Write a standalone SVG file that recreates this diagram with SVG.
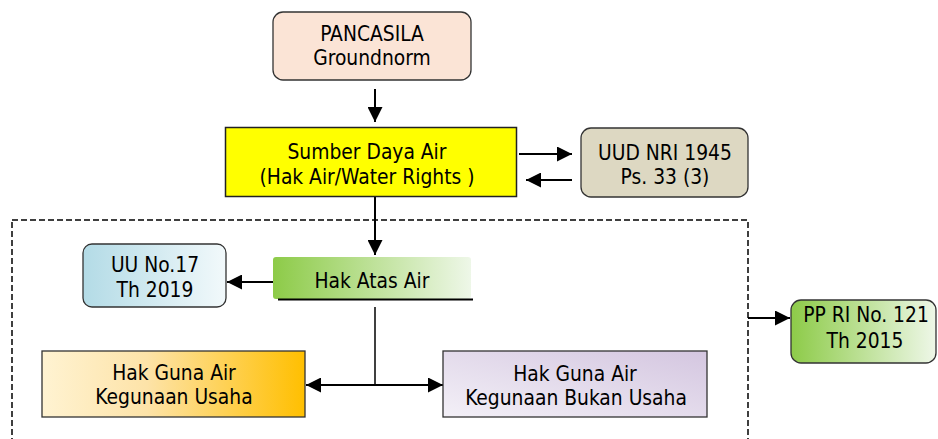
<svg xmlns="http://www.w3.org/2000/svg" width="938" height="439" viewBox="0 0 938 439">
<defs>
<style>
text{font-family:"DejaVu Sans Condensed","DejaVu Sans",sans-serif;font-stretch:condensed;font-size:20.8px;fill:#000;text-anchor:middle}
.c{stroke:#000;stroke-width:2;fill:none}
.b{stroke:#333;stroke-width:1.3}
</style>
<marker id="ah" viewBox="0 0 12 12" refX="12" refY="6" markerWidth="15" markerHeight="15" markerUnits="userSpaceOnUse" orient="auto-start-reverse">
<path d="M0,0 L12,6 L0,12 Z" fill="#000"/>
</marker>
<linearGradient id="gUU" x1="0" y1="0" x2="1" y2="0"><stop offset="0" stop-color="#b3dbe6"/><stop offset="1" stop-color="#f2f9fb"/></linearGradient>
<linearGradient id="gGreen" x1="0" y1="0" x2="1" y2="0"><stop offset="0" stop-color="#8dcb48"/><stop offset="1" stop-color="#eef7e8"/></linearGradient>
<linearGradient id="gOr" x1="0" y1="0" x2="1" y2="0"><stop offset="0" stop-color="#fff3d2"/><stop offset="0.4" stop-color="#fde3a8"/><stop offset="1" stop-color="#ffbf00"/></linearGradient>
<linearGradient id="gLav" x1="0" y1="1" x2="1" y2="0"><stop offset="0" stop-color="#f3f0f7"/><stop offset="1" stop-color="#d4c6e0"/></linearGradient>
</defs>
<rect width="938" height="439" fill="#fff"/>

<g id="connectors">
<rect x="12" y="220" width="736" height="240" fill="none" stroke="#000" stroke-width="1.5" stroke-dasharray="6,3"/>
<line class="c" x1="375" y1="89" x2="375" y2="122" marker-end="url(#ah)"/>
<line class="c" x1="519" y1="154" x2="572" y2="154" marker-end="url(#ah)"/>
<line class="c" x1="572" y1="180" x2="526" y2="180" marker-end="url(#ah)"/>
<line class="c" x1="375" y1="197" x2="375" y2="255" marker-end="url(#ah)"/>
<line class="c" x1="273" y1="282" x2="227" y2="282" marker-end="url(#ah)"/>
<line x1="375" y1="307" x2="375" y2="385" stroke="#000" stroke-width="1.5"/>
<line class="c" x1="306" y1="385" x2="443" y2="385" marker-start="url(#ah)" marker-end="url(#ah)"/>
<line class="c" x1="748" y1="318" x2="790" y2="318" marker-end="url(#ah)"/>
</g>

<g id="pancasila">
<rect class="b" x="273" y="12" width="198" height="68" rx="10" fill="#fbe4d6"/>
<text x="372" y="41">PANCASILA</text>
<text x="372" y="65">Groundnorm</text>
</g>

<g id="sumber">
<rect x="225.5" y="127.5" width="291" height="69" fill="#ffff00" stroke="#222" stroke-width="1.5"/>
<text x="367" y="159">Sumber Daya Air</text>
<text x="367" y="184">(Hak Air/Water Rights )</text>
</g>

<g id="uud">
<rect class="b" x="581" y="128" width="167" height="69" rx="10" fill="#ddd8c2"/>
<text x="665" y="160">UUD NRI 1945</text>
<text x="665" y="184">Ps. 33 (3)</text>
</g>

<g id="uu17">
<rect class="b" x="83" y="244" width="143" height="63" rx="9" fill="url(#gUU)"/>
<text x="155" y="272">UU No.17</text>
<text x="155" y="297">Th 2019</text>
</g>

<g id="hakatas">
<rect x="273" y="257" width="198" height="42" rx="3" fill="url(#gGreen)"/>
<line x1="278" y1="299.5" x2="473" y2="299.5" stroke="#000" stroke-width="2"/>
<text x="372" y="288">Hak Atas Air</text>
</g>

<g id="gunausaha">
<rect class="b" x="42" y="351" width="263" height="66" fill="url(#gOr)"/>
<text x="174" y="380">Hak Guna Air</text>
<text x="174" y="404">Kegunaan Usaha</text>
</g>

<g id="gunabukan">
<rect class="b" x="443" y="351" width="264" height="66" fill="url(#gLav)"/>
<text x="575" y="381">Hak Guna Air</text>
<text x="576" y="405">Kegunaan Bukan Usaha</text>
</g>

<g id="ppri">
<rect class="b" x="791" y="300" width="145" height="63" rx="10" fill="url(#gGreen)"/>
<text x="866" y="322">PP RI No. 121</text>
<text x="865" y="348">Th 2015</text>
</g>
</svg>
